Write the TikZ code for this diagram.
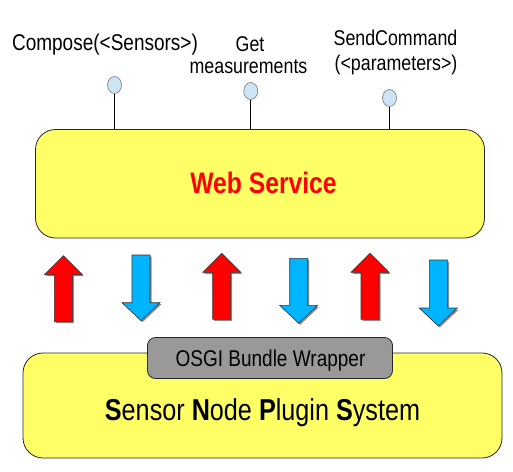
\documentclass[tikz,border=0pt]{standalone}
\usepackage{fontspec}
\setmainfont{Liberation Sans}
\definecolor{boxyellow}{HTML}{FFFF66}
\definecolor{osgigray}{HTML}{999999}
\definecolor{arrblue}{HTML}{00B4FF}
\definecolor{portblue}{HTML}{CFE4F2}
\definecolor{portline}{HTML}{7A8591}
\newcommand\VS[1]{\scalebox{1}[1.2]{#1}}
\newcommand\UpArr[3]{%
  \foreach \dx/\st in {1.5/shadowst,0/redarr}{%
    \path[\st] ({#1+\dx},{#2+\dx}) -- ({#1+19+\dx},{#2+19+\dx}) -- ({#1+9+\dx},{#2+19+\dx}) -- ({#1+9+\dx},{#3+\dx}) -- ({#1-9+\dx},{#3+\dx}) -- ({#1-9+\dx},{#2+19+\dx}) -- ({#1-19+\dx},{#2+19+\dx}) -- cycle;}}
\newcommand\DownArr[3]{%
  \foreach \dx/\st in {1.5/shadowst,0/bluearr}{%
    \path[\st] ({#1+\dx},{#3+\dx}) -- ({#1+19+\dx},{#3-18+\dx}) -- ({#1+9+\dx},{#3-18+\dx}) -- ({#1+9+\dx},{#2+\dx}) -- ({#1-9+\dx},{#2+\dx}) -- ({#1-9+\dx},{#3-18+\dx}) -- ({#1-19+\dx},{#3-18+\dx}) -- cycle;}}
\tikzset{
  bigbox/.style={draw=black!85, line width=0.8pt, fill=boxyellow, rounded corners=20pt},
  osgibox/.style={draw=black!85, line width=0.8pt, fill=osgigray, rounded corners=8pt},
  port/.style={ellipse, draw=portline, line width=0.7pt, fill=portblue, minimum width=14pt, minimum height=17pt, inner sep=0pt},
  lbl/.style={anchor=base, inner sep=0pt, font=\fontsize{17.8}{21}\selectfont},
  shadowst/.style={fill=black!45},
  redarr/.style={fill=red, draw=black!80, line width=0.6pt},
  bluearr/.style={fill=arrblue, draw=black!80, line width=0.6pt},
  wire/.style={draw=black, line width=0.7pt}
}
\usetikzlibrary{shapes.geometric}
\begin{document}
\begin{tikzpicture}[x=1pt,y=-1pt]
\useasboundingbox (0,0) rectangle (513,471);
% boxes
\draw[bigbox] (35.5,129.5) rectangle (484.5,238);
\coordinate (webtop) at (0,129.5);
\node[anchor=base, inner sep=0pt, text=red, font=\bfseries\fontsize{24.7}{28}\selectfont] (web) at (263.5,193.3) {\VS{Web Service}};
\draw[bigbox] (23,353) rectangle (502,458);
\node[anchor=base, inner sep=0pt, font=\fontsize{25.2}{28}\selectfont] (snps) at (262.5,420.7) {\VS{\textbf{S}ensor \textbf{N}ode \textbf{P}lugin \textbf{S}ystem}};
\draw[osgibox] (147.5,337.5) rectangle (392.5,378.5);
\node[anchor=base, inner sep=0pt, font=\fontsize{19}{22}\selectfont] (osgi) at (270.5,366.7) {\VS{OSGI Bundle Wrapper}};
% ports
\node[port] (p1) at (114.5,85) {};
\node[port] (p2) at (250.7,91) {};
\node[port] (p3) at (389.5,98) {};
\foreach \p in {p1,p2,p3}{\draw[wire] (\p.south) -- (\p.south |- webtop);}
% labels
\node[lbl, font=\fontsize{19}{21}\selectfont] (l1) at (105,50) {\VS{Compose(<Sensors>)}};
\node[lbl] (l2a) at (250,51.7) {\VS{Get}};
\node[lbl] (l2b) at (248.5,73.3) {\VS{measurements}};
\node[lbl] (l3a) at (395.5,45) {\VS{SendCommand}};
\node[lbl] (l3b) at (396,70) {\VS{(<parameters>)}};
% arrows
\UpArr{63.3}{255.7}{321.7}
\UpArr{221.7}{253.3}{319.3}
\UpArr{370}{253.3}{319.3}
\DownArr{141}{255}{320.7}
\DownArr{298.7}{258.3}{323.3}
\DownArr{438.3}{260}{326}
\end{tikzpicture}
\end{document}
